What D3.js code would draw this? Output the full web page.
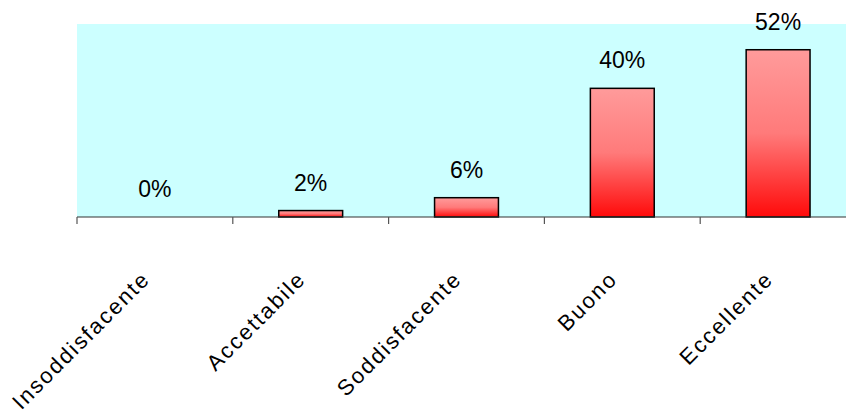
<!DOCTYPE html>
<html>
<head>
<meta charset="utf-8">
<script src="https://cdn.jsdelivr.net/npm/d3@7"></script>
<style>
  html, body { margin: 0; padding: 0; background: #ffffff; }
  svg { display: block; }
  text { font-family: "Liberation Sans", Arial, sans-serif; fill: #000; }
</style>
</head>
<body>
<svg id="chart" width="846" height="414"></svg>
<script>
const categories = ["Insoddisfacente", "Accettabile", "Soddisfacente", "Buono", "Eccellente"];
const values = [0, 2, 6, 40, 52];
const valueLabels = ["0%", "2%", "6%", "40%", "52%"];

const svg = d3.select("#chart");
const plot = { left: 77, right: 856, top: 24, bottom: 217 };

const x = d3.scaleBand().domain(categories).range([plot.left, plot.right]).padding(0);
const y = d3.scaleLinear().domain([0, 60]).range([plot.bottom, plot.top]);

const defs = svg.append("defs");
const grad = defs.append("linearGradient").attr("id", "barGrad")
  .attr("x1", 0).attr("y1", 0).attr("x2", 0).attr("y2", 1);
grad.append("stop").attr("offset", "0%").attr("stop-color", "#ff9b9b");
grad.append("stop").attr("offset", "50%").attr("stop-color", "#ff7a7a");
grad.append("stop").attr("offset", "100%").attr("stop-color", "#ff0a0a");

// plot background
svg.append("rect")
  .attr("x", plot.left).attr("y", plot.top)
  .attr("width", plot.right - plot.left).attr("height", plot.bottom - plot.top)
  .attr("fill", "#ccffff");

const barW = x.bandwidth() * 0.41;

svg.append("g").selectAll("rect")
  .data(values.map((v, i) => ({ c: categories[i], v })))
  .join("rect")
  .filter(d => d.v > 0)
  .attr("x", d => x(d.c) + x.bandwidth() / 2 - barW / 2)
  .attr("y", d => y(d.v))
  .attr("width", barW)
  .attr("height", d => y(0) - y(d.v))
  .attr("fill", "url(#barGrad)")
  .attr("stroke", "#000")
  .attr("stroke-width", 1.5);

// value labels
svg.append("g").selectAll("text")
  .data(values.map((v, i) => ({ c: categories[i], v, l: valueLabels[i] })))
  .join("text")
  .attr("x", d => x(d.c) + x.bandwidth() / 2)
  .attr("y", d => y(d.v) - 20)
  .attr("text-anchor", "middle")
  .style("font-size", "23px")
  .text(d => d.l);

// x axis
const axis = d3.axisBottom(x).tickSize(0).tickFormat("");
const gx = svg.append("g").attr("transform", `translate(0,${plot.bottom})`).call(axis);
gx.select(".domain").attr("stroke", "#333").attr("stroke-width", 1.2).attr("d", `M${plot.left},0H${plot.right}`);

// tick marks at category boundaries
const boundaries = categories.map(c => x(c)).concat([x(categories[categories.length - 1]) + x.bandwidth()]);
gx.selectAll(".bnd").data(boundaries).join("line")
  .attr("class", "bnd")
  .attr("x1", d => d).attr("x2", d => d)
  .attr("y1", 0).attr("y2", 7)
  .attr("stroke", "#555").attr("stroke-width", 1.2);

// rotated category labels
svg.append("g").selectAll("text")
  .data(categories)
  .join("text")
  .attr("transform", d => `translate(${x(d) + x.bandwidth() / 2 - 9},${plot.bottom + 58}) rotate(-45)`)
  .attr("text-anchor", "end")
  .attr("dy", "0.35em")
  .style("font-size", "22px")
  .style("letter-spacing", "2px")
  .text(d => d);
</script>
</body>
</html>
